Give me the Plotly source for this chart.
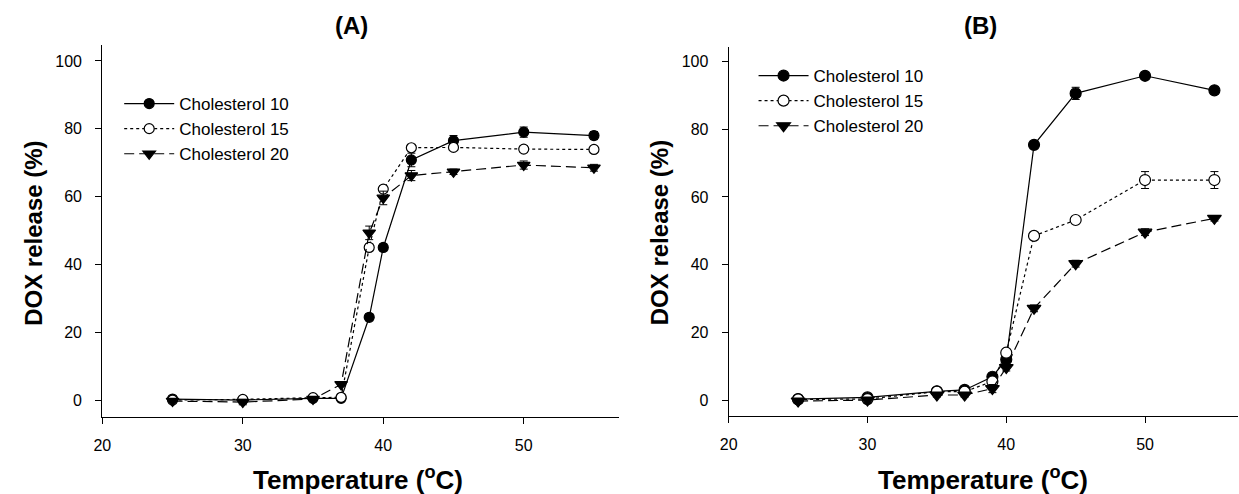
import plotly.graph_objects as go

temperature = [25, 30, 35, 37, 39, 40, 42, 45, 50, 55]

# Panel A
a_chol10 = [0.3, 0.0, 0.5, 0.5, 24.4, 45.0, 70.8, 76.5, 79.0, 78.0]
a_chol10_err = [0.5, 0.5, 0.5, 0.5, 1.0, 1.0, 2.0, 1.5, 1.5, 1.2]
a_chol15 = [0.0, 0.2, 0.7, 0.8, 45.0, 62.2, 74.4, 74.5, 74.0, 73.9]
a_chol15_err = [0.3, 0.3, 0.3, 0.3, 1.0, 1.0, 0.8, 0.8, 1.0, 0.8]
a_chol20 = [-0.3, -0.6, 0.3, 4.6, 49.3, 59.6, 66.2, 67.3, 69.3, 68.5]
a_chol20_err = [0.5, 0.8, 0.5, 0.5, 2.0, 2.0, 1.5, 0.8, 1.2, 1.0]

# Panel B
b_chol10 = [0.3, 0.8, 2.6, 3.0, 6.9, 12.0, 75.4, 90.6, 95.8, 91.5]
b_chol10_err = [0.5, 0.6, 0.6, 0.6, 1.0, 1.0, 1.0, 1.8, 1.0, 1.0]
b_chol15 = [0.2, 0.3, 2.5, 2.5, 5.5, 14.0, 48.5, 53.2, 65.0, 65.0]
b_chol15_err = [0.3, 0.3, 0.4, 0.4, 0.8, 1.0, 1.0, 0.8, 2.5, 2.5]
b_chol20 = [-0.3, 0.0, 1.5, 1.5, 3.4, 9.6, 27.1, 40.3, 49.6, 53.7]
b_chol20_err = [0.5, 0.6, 0.6, 0.6, 1.2, 1.0, 1.0, 1.0, 1.0, 0.8]

series_names = ["Cholesterol 10", "Cholesterol 15", "Cholesterol 20"]
panel_titles = ["(A)", "(B)"]
x_title = "Temperature (<sup>o</sup>C)"
y_title = "DOX release (%)"
x_ticks = [20, 30, 40, 50]
y_ticks = [0, 20, 40, 60, 80, 100]

FONT = "Arial, 'Liberation Sans', sans-serif"
W, H = 1239, 494

styles = [
    dict(dash="solid", symbol="circle", fill="black"),
    dict(dash="dot", symbol="circle", fill="white"),
    dict(dash="10px,5px", symbol="triangle-down", fill="black"),
]

fig = go.Figure()

panels = [
    ("x", "y", "legend", [a_chol10, a_chol15, a_chol20], [a_chol10_err, a_chol15_err, a_chol20_err], 10),
    ("x2", "y2", "legend2", [b_chol10, b_chol15, b_chol20], [b_chol10_err, b_chol15_err, b_chol20_err], 11),
]

for xa, ya, leg, ys, errs, msize in panels:
    for name, yv, ev, st in zip(series_names, ys, errs, styles):
        fig.add_trace(go.Scatter(
            x=temperature, y=yv, name=name, mode="lines+markers",
            xaxis=xa, yaxis=ya, legend=leg,
            line=dict(color="black", width=1.2, dash=st["dash"]),
            marker=dict(symbol=st["symbol"], size=msize + (1 if st["symbol"] == "triangle-down" else 0),
                        color=st["fill"], line=dict(color="black", width=1.2)),
            error_y=dict(type="data", array=ev, visible=True, color="black", thickness=1, width=4),
        ))

def px_x(p):
    return p / W

def px_y(p):
    return 1 - p / H

axis_common = dict(
    showline=True, linecolor="black", linewidth=1.2, mirror=False,
    ticks="outside", ticklen=6, tickwidth=1.2, tickcolor="black",
    showgrid=False, zeroline=False,
    tickfont=dict(family=FONT, size=16, color="black"),
)

legend_common = dict(xanchor="left", yanchor="top", bgcolor="rgba(0,0,0,0)",
                     itemwidth=50, tracegroupgap=0,
                     font=dict(family=FONT, size=17, color="black"))

fig.update_layout(
    width=W, height=H,
    margin=dict(l=0, r=0, t=0, b=0),
    paper_bgcolor="white", plot_bgcolor="white",
    showlegend=True,
    xaxis=dict(domain=[px_x(94), px_x(614)], range=[20, 56.75], tickvals=x_ticks,
               anchor="y", ticklabelstandoff=8, **axis_common),
    yaxis=dict(domain=[px_y(417), px_y(45)], range=[-5.0, 104.7], tickvals=y_ticks,
               anchor="x", ticklabelstandoff=10, **axis_common),
    xaxis2=dict(domain=[px_x(725), px_x(1238)], range=[20, 56.7], tickvals=x_ticks,
                anchor="y2", ticklabelstandoff=8, **axis_common),
    yaxis2=dict(domain=[px_y(416), px_y(47)], range=[-4.7, 104.3], tickvals=y_ticks,
                anchor="x2", ticklabelstandoff=10, **axis_common),
    legend=dict(x=px_x(111), y=px_y(86), **legend_common),
    legend2=dict(x=px_x(750), y=px_y(58), **legend_common),
)

annotations = []
for title, cx in zip(panel_titles, [345, 979]):
    annotations.append(dict(text=f"<b>{title}</b>", x=px_x(cx), y=px_y(26), xref="paper", yref="paper",
                            xanchor="center", yanchor="middle", showarrow=False,
                            font=dict(family=FONT, size=24, color="black")))
for cx in [352, 981]:
    annotations.append(dict(text=f"<b>{x_title}</b>", x=px_x(cx), y=px_y(478), xref="paper", yref="paper",
                            xanchor="center", yanchor="middle", showarrow=False,
                            font=dict(family=FONT, size=26, color="black")))
for cx in [24, 655]:
    annotations.append(dict(text=f"<b>{y_title}</b>", x=px_x(cx), y=px_y(233), xref="paper", yref="paper",
                            xanchor="center", yanchor="middle", showarrow=False, textangle=-90,
                            font=dict(family=FONT, size=24, color="black")))
fig.update_layout(annotations=annotations)

fig.write_html("out.html")
